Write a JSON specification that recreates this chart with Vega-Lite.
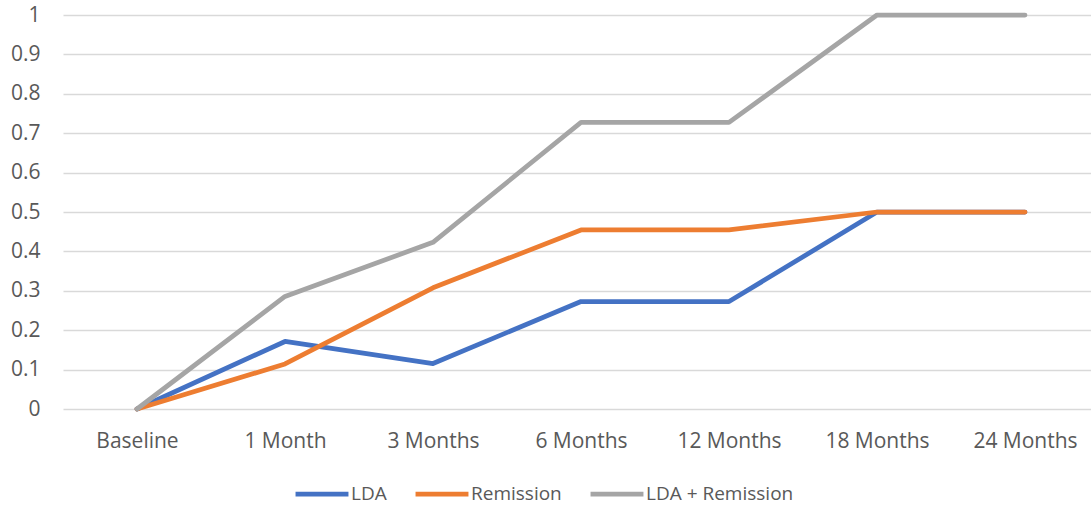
{
  "$schema": "https://vega.github.io/schema/vega-lite/v6.json",
  "autosize": "none",
  "padding": {"left": 63, "top": 15, "right": 0, "bottom": 100},
  "width": 1036,
  "height": 394,
  "background": "white",
  "config": {
    "font": "Open Sans",
    "view": {"stroke": null}
  },
  "data": {
    "values": [
      {"time": "Baseline", "series": "LDA", "value": 0},
      {"time": "1 Month", "series": "LDA", "value": 0.1714},
      {"time": "3 Months", "series": "LDA", "value": 0.1154},
      {"time": "6 Months", "series": "LDA", "value": 0.2727},
      {"time": "12 Months", "series": "LDA", "value": 0.2727},
      {"time": "18 Months", "series": "LDA", "value": 0.5},
      {"time": "24 Months", "series": "LDA", "value": 0.5},
      {"time": "Baseline", "series": "Remission", "value": 0},
      {"time": "1 Month", "series": "Remission", "value": 0.1143},
      {"time": "3 Months", "series": "Remission", "value": 0.3077},
      {"time": "6 Months", "series": "Remission", "value": 0.4545},
      {"time": "12 Months", "series": "Remission", "value": 0.4545},
      {"time": "18 Months", "series": "Remission", "value": 0.5},
      {"time": "24 Months", "series": "Remission", "value": 0.5},
      {"time": "Baseline", "series": "LDA + Remission", "value": 0},
      {"time": "1 Month", "series": "LDA + Remission", "value": 0.2857},
      {"time": "3 Months", "series": "LDA + Remission", "value": 0.4231},
      {"time": "6 Months", "series": "LDA + Remission", "value": 0.7273},
      {"time": "12 Months", "series": "LDA + Remission", "value": 0.7273},
      {"time": "18 Months", "series": "LDA + Remission", "value": 1},
      {"time": "24 Months", "series": "LDA + Remission", "value": 1}
    ]
  },
  "mark": {"type": "line", "strokeWidth": 4.75, "strokeCap": "round", "strokeJoin": "round"},
  "encoding": {
    "x": {
      "field": "time",
      "type": "nominal",
      "sort": ["Baseline", "1 Month", "3 Months", "6 Months", "12 Months", "18 Months", "24 Months"],
      "scale": {"type": "point", "padding": 0.5},
      "axis": {
        "title": null,
        "labelAngle": 0,
        "ticks": false,
        "domain": false,
        "grid": false,
        "labelFontSize": 21,
        "labelColor": "#595959",
        "labelPadding": 21
      }
    },
    "y": {
      "field": "value",
      "type": "quantitative",
      "scale": {"domain": [0, 1], "nice": false},
      "axis": {
        "title": null,
        "values": [0, 0.1, 0.2, 0.3, 0.4, 0.5, 0.6, 0.7, 0.8, 0.9, 1],
        "format": "~g",
        "ticks": false,
        "domain": false,
        "gridColor": "#d9d9d9",
        "gridWidth": 1.5,
        "labelFontSize": 21,
        "labelColor": "#595959",
        "labelPadding": 23
      }
    },
    "color": {
      "field": "series",
      "type": "nominal",
      "sort": ["LDA", "Remission", "LDA + Remission"],
      "scale": {"domain": ["LDA", "Remission", "LDA + Remission"], "range": ["#4472C4", "#ED7D31", "#A5A5A5"]},
      "legend": {
        "title": null,
        "orient": "none",
        "direction": "horizontal",
        "legendX": 230,
        "legendY": 450,
        "symbolType": "stroke",
        "symbolSize": 2800,
        "symbolStrokeWidth": 4.75,
        "labelFontSize": 19,
        "labelColor": "#595959",
        "labelOffset": 0,
        "columnPadding": 19
      }
    }
  }
}
